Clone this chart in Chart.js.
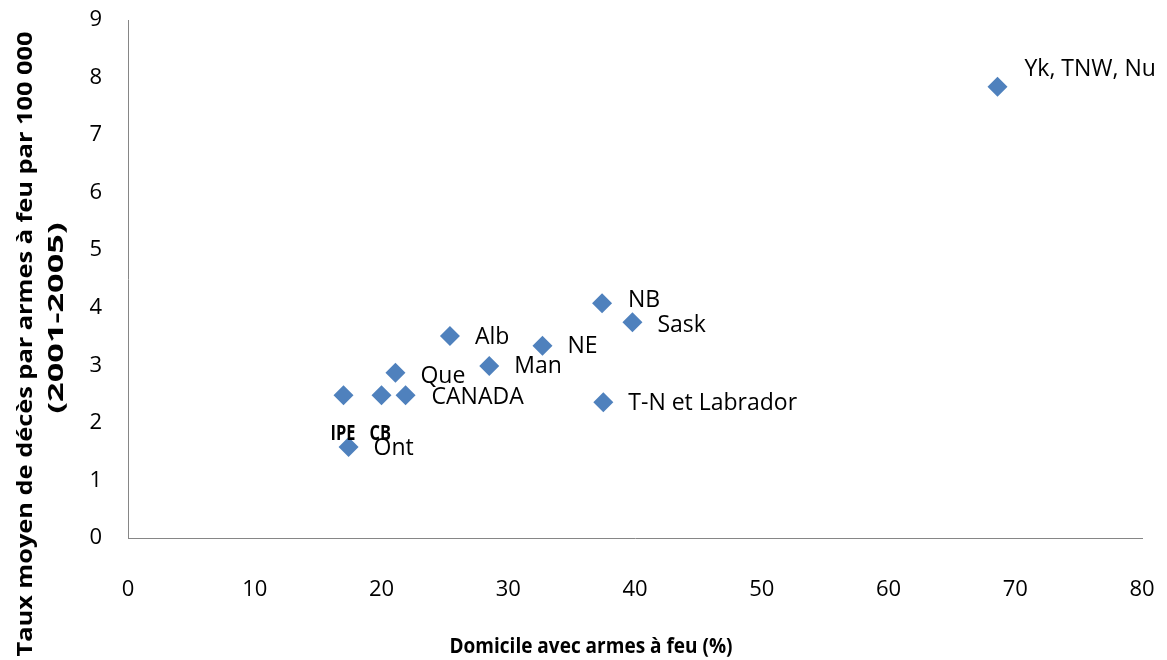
<!DOCTYPE html>
<html>
<head>
<meta charset="utf-8">
<script src="https://cdn.jsdelivr.net/npm/chart.js@4.4.1/dist/chart.umd.min.js"></script>
<style>
  body { margin: 0; background: #fff; }
</style>
</head>
<body>
<canvas id="gunChart" width="1167" height="660"></canvas>
<script>
// provinces / territories
const places = ["Yk, TNW, Nu", "NB", "Sask", "NE", "Alb", "Man", "Que", "CANADA", "CB", "IPE", "Ont", "T-N et Labrador"];
// Domicile avec armes à feu (%)
const gunHomes = [68.6, 37.4, 39.8, 32.7, 25.4, 28.5, 21.1, 21.9, 20.0, 17.0, 17.4, 37.5];
// Taux moyen de décès par armes à feu par 100 000 (2001-2005)
const deathRates = [7.84, 4.08, 3.75, 3.34, 3.51, 2.99, 2.87, 2.48, 2.48, 2.48, 1.58, 2.36];

const xTicks = [0, 10, 20, 30, 40, 50, 60, 70, 80];
const yTicks = [0, 1, 2, 3, 4, 5, 6, 7, 8, 9];

const xTitle = "Domicile avec armes à feu (%)";
const yTitle = ["Taux moyen de décès par armes à feu par 100 000", "(2001-2005)"];

// where each point label sits relative to its marker
const labelPos = {
    "Yk, TNW, Nu": { dx: 27, dy: -17 },
    "NB": { dx: 26, dy: -3 },
    "Sask": { dx: 25, dy: 3 },
    "Que": { dx: 25, dy: 4 },
    "CANADA": { dx: 26, dy: 2 },
    "CB": { dx: -12, dy: 39, small: true },
    "IPE": { dx: -13, dy: 39, small: true }
};

function fitText(ctx, text, x, y, width) {
    const w = ctx.measureText(text).width;
    ctx.save();
    ctx.translate(x, y);
    ctx.scale(width / w, 1);
    ctx.fillText(text, 0, 0);
    ctx.restore();
}

const titlesPlugin = {
    id: "titles",
    afterDraw(chart) {
        const ctx = chart.ctx;
        ctx.save();
        ctx.fillStyle = "#000";
        ctx.textBaseline = "alphabetic";
        ctx.textAlign = "center";
        ctx.font = "bold 22px 'Open Sans'";
        fitText(ctx, xTitle, 591, 653, 283);

        ctx.save();
        ctx.translate(32, 344);
        ctx.rotate(-Math.PI / 2);
        fitText(ctx, yTitle[0], 0, 0, 625);
        ctx.restore();

        ctx.save();
        ctx.translate(63, 318);
        ctx.rotate(-Math.PI / 2);
        fitText(ctx, yTitle[1], 0, 0, 191);
        ctx.restore();
        ctx.restore();
    }
};

const pointLabels = {
    id: "pointLabels",
    afterDatasetsDraw(chart) {
        const ctx = chart.ctx;
        const pts = chart.getDatasetMeta(0).data;
        ctx.save();
        ctx.fillStyle = "#000";
        ctx.textAlign = "left";
        ctx.textBaseline = "middle";
        pts.forEach(function (pt, i) {
            const name = places[i];
            const pos = labelPos[name] || { dx: 25, dy: 1 };
            if (pos.small) {
                ctx.font = "bold 21px 'Open Sans'";
                ctx.save();
                ctx.translate(pt.x + pos.dx, pt.y + pos.dy);
                ctx.scale(0.78, 1);
                ctx.fillText(name, 0, 0);
                ctx.restore();
            } else {
                ctx.font = "23px 'Open Sans'";
                ctx.fillText(name, pt.x + pos.dx, pt.y + pos.dy);
            }
        });
        ctx.restore();
    }
};

const ctx = document.getElementById("gunChart").getContext("2d");

new Chart(ctx, {
    type: "scatter",
    data: {
        datasets: [{
            data: gunHomes.map((x, i) => ({ x: x, y: deathRates[i] })),
            pointStyle: "rectRot",
            pointRadius: 10,
            pointHoverRadius: 10,
            backgroundColor: "#4F81BD",
            borderColor: "#4F81BD",
            borderWidth: 0
        }]
    },
    options: {
        responsive: false,
        animation: false,
        layout: {
            padding: { top: 20, right: 25, left: 0, bottom: 0 }
        },
        plugins: {
            legend: { display: false },
            tooltip: { enabled: false }
        },
        scales: {
            x: {
                type: "linear",
                min: xTicks[0],
                max: xTicks[xTicks.length - 1],
                afterBuildTicks(axis) {
                    axis.ticks = xTicks.map(v => ({ value: v }));
                },
                afterFit(axis) {
                    axis.height = 122;
                    axis.paddingLeft = 0;
                    axis.paddingRight = 0;
                },
                grid: { display: false, drawTicks: false },
                border: { display: true, color: "#868686", width: 1 },
                ticks: {
                    padding: 39,
                    color: "#000",
                    font: { family: "'Open Sans'", size: 22 }
                }
            },
            y: {
                type: "linear",
                min: yTicks[0],
                max: yTicks[yTicks.length - 1],
                afterBuildTicks(axis) {
                    axis.ticks = yTicks.map(v => ({ value: v }));
                },
                afterFit(axis) {
                    axis.width = 128;
                    axis.paddingTop = 0;
                    axis.paddingBottom = 0;
                },
                grid: { display: false, drawTicks: false },
                border: { display: true, color: "#868686", width: 1 },
                ticks: {
                    padding: 26,
                    color: "#000",
                    font: { family: "'Open Sans'", size: 22 }
                }
            }
        }
    },
    plugins: [pointLabels, titlesPlugin]
});
</script>
</body>
</html>
